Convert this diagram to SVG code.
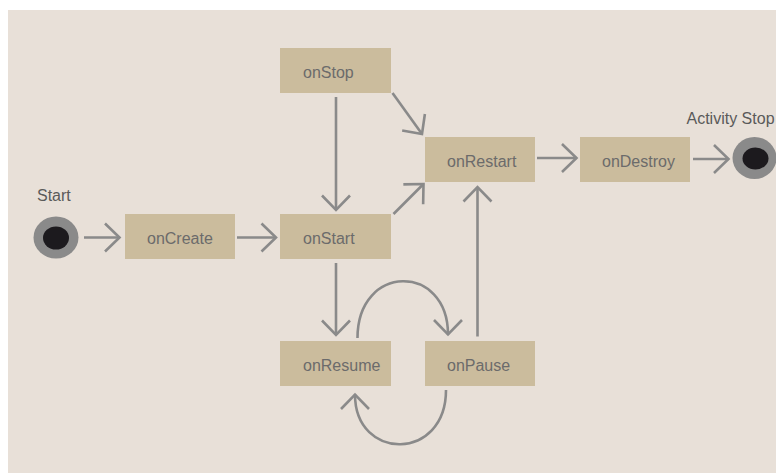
<svg xmlns="http://www.w3.org/2000/svg" width="776" height="473" viewBox="0 0 776 473">
  <style>
    .node rect { fill: #cbbc9d; }
    .node text { font-family: "Liberation Sans", Arial, sans-serif; font-size: 16px; fill: #6b6b6b; }
    .label { font-family: "Liberation Sans", Arial, sans-serif; font-size: 16px; fill: #5a5a5a; }
    .edge { fill: none; stroke: #8a8a8a; stroke-width: 2.6; marker-end: url(#chev); }
    .ring { fill: #8a8a8a; }
    .dot { fill: #1c1a1e; }
  </style>
  <defs>
    <marker id="chev" markerUnits="userSpaceOnUse" orient="auto" overflow="visible" markerWidth="1" markerHeight="1" refX="0" refY="0">
      <path d="M-14.5,-14 L0,0 L-14.5,14" fill="none" stroke="#8a8a8a" stroke-width="2.6"/>
    </marker>
  </defs>

  <!-- canvas -->
  <rect x="8" y="10" width="768" height="463" fill="#e8e0d8"/>

  <!-- start / end states -->
  <g id="start">
    <text class="label" x="37" y="201">Start</text>
    <ellipse class="ring" cx="56" cy="237.5" rx="22.5" ry="21"/>
    <ellipse class="dot" cx="56" cy="238" rx="13" ry="11.5"/>
  </g>
  <g id="activity-stop">
    <text class="label" x="686.5" y="124">Activity Stop</text>
    <ellipse class="ring" cx="754.5" cy="158" rx="22" ry="21"/>
    <ellipse class="dot" cx="755.5" cy="158.5" rx="13" ry="11"/>
  </g>

  <!-- lifecycle callbacks -->
  <g id="onCreate" class="node"><rect x="125" y="214" width="110" height="45"/><text x="147" y="244">onCreate</text></g>
  <g id="onStart" class="node"><rect x="280" y="214" width="111" height="45"/><text x="303" y="244">onStart</text></g>
  <g id="onStop" class="node"><rect x="280" y="48" width="111" height="45"/><text x="303" y="78">onStop</text></g>
  <g id="onRestart" class="node"><rect x="425" y="137" width="110" height="45"/><text x="447" y="167">onRestart</text></g>
  <g id="onDestroy" class="node"><rect x="580" y="137" width="110" height="45"/><text x="602" y="167">onDestroy</text></g>
  <g id="onResume" class="node"><rect x="280" y="341" width="111" height="45"/><text x="303" y="371">onResume</text></g>
  <g id="onPause" class="node"><rect x="425" y="341" width="110" height="45"/><text x="447" y="371">onPause</text></g>

  <!-- transitions -->
  <g id="connectors">
    <path class="edge" d="M84,237.5 L119.5,237.5"/>
    <path class="edge" d="M237,237.5 L276,237.5"/>
    <path class="edge" d="M336,97 L336,210"/>
    <path class="edge" d="M392.5,93 L422,134"/>
    <path class="edge" d="M393.5,214 L423.5,184"/>
    <path class="edge" d="M336,263 L336,335"/>
    <path class="edge" d="M477.5,336.5 L477.5,187"/>
    <path class="edge" d="M537,158 L576.5,158"/>
    <path class="edge" d="M693,159 L728.5,159"/>
    <path class="edge" d="M357.5,338 C357.5,263 448,263 448,334.5"/>
    <path class="edge" d="M446,390 C446,461.5 355,461.5 355,394.5"/>
  </g>
</svg>
